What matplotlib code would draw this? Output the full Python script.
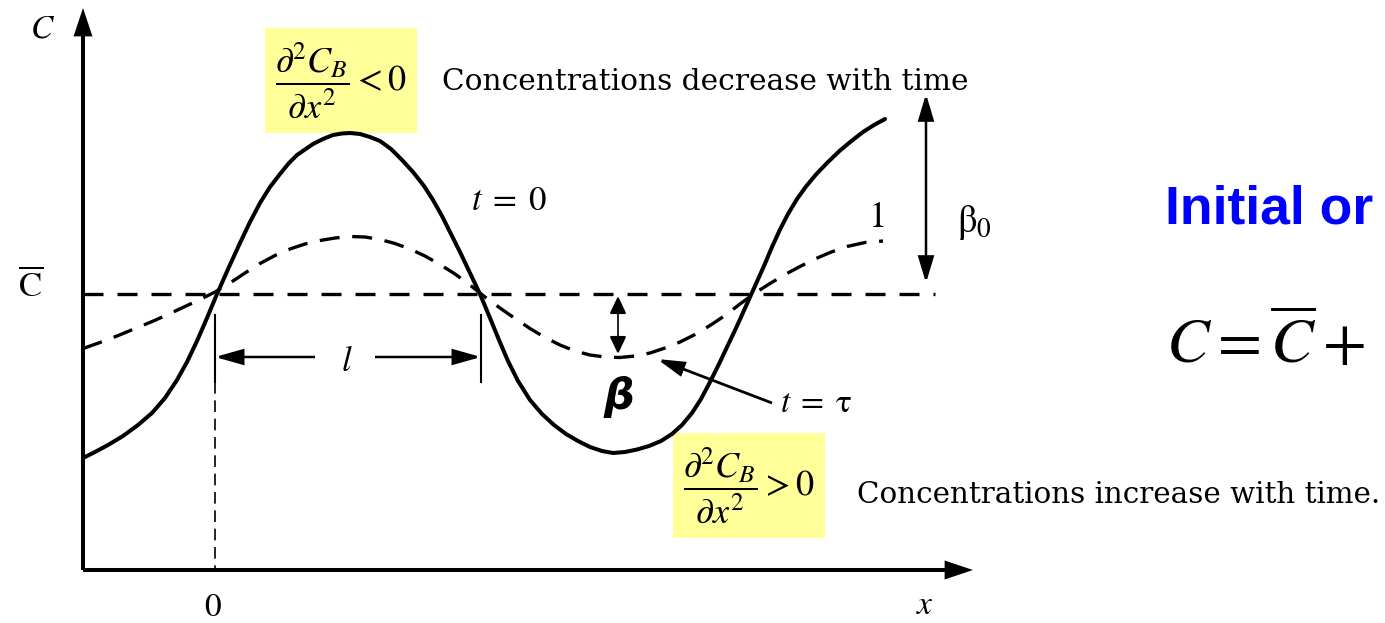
import matplotlib
matplotlib.use("Agg")
import matplotlib.pyplot as plt
from matplotlib.patches import Rectangle, FancyArrowPatch

plt.rcParams["mathtext.fontset"] = "stix"

# Schematic profile C(x) - C̄ at t = 0 (arbitrary units, l = 266)
x_t0 = [-132, -120, -107, -92, -77, -63, -50, -38, -28, -18, -8, 2, 14, 25,
        35, 45, 55, 65, 74, 82, 90, 98, 108, 118, 127, 135,
        145, 155, 165, 176, 187, 198, 209, 218, 227, 236, 245, 255, 265, 275,
        284, 293, 303, 315, 327, 339, 351, 363, 375, 387, 398,
        410, 422, 434, 446, 457, 467, 477, 486, 495, 504, 513, 522, 531, 540,
        549, 557, 565, 573, 582, 591, 601, 612, 625, 637, 648, 659, 670]
c_t0 = [-164, -158, -151, -142, -131, -119, -104, -86, -68, -47, -24, 0, 27,
        51, 72, 91, 107, 120, 131, 139, 144.5, 150, 155, 159, 160.5, 161,
        160, 157, 153, 145, 134, 122, 108, 94, 78, 60, 42, 21, 0, -24,
        -46, -67, -87, -106, -120, -131, -140, -147, -153, -157, -159,
        -158, -155.5, -152, -147, -140, -131, -119, -105, -88, -70, -51, -32,
        -12, 8, 28, 47, 64.5, 80, 95, 107.5, 119.5, 131, 143.5, 153.5, 162,
        169, 175]

# Decayed profile at t = τ
x_tau = [-132, -115, -98, -81, -64, -47, -30, -15, 0, 15, 30, 45, 60, 75, 90,
         105, 120, 135, 150, 165, 180, 195, 210, 225, 240, 255, 270, 285, 300,
         315, 330, 345, 360, 375, 390, 405, 420, 435, 450, 465, 480, 495, 510,
         525, 540, 555, 570, 585, 600, 615, 632, 650, 668]
c_tau = [-54.5, -48.5, -42, -35, -28, -20.5, -12.5, -5.5, 2, 11, 21, 30.5,
         38.5, 45, 50, 53.5, 56, 57.5, 57, 54.5, 50.5, 45, 38, 29.5, 20, 9,
         -3, -14, -24.5, -34.5, -43.5, -51, -57, -61, -63, -63.5, -62, -59,
         -54, -48, -40.5, -31.5, -21.5, -10, 1, 10.5, 19.5, 27.5, 35, 41.5,
         47.5, 51.5, 53]

c_mean = 0            # C̄ level
half_wave = 266       # l
beta0_top = 200       # top of the β0 marker
beta_tau = -60        # depth of the β marker

x_min, x_max = -215, 1170
y_min, y_max = -329, 294
x_axis_y = -276
y_axis_x = -132

fig = plt.figure(figsize=(13.85, 6.23), dpi=100)
ax = fig.add_axes([0, 0, 1, 1])
ax.set_xlim(x_min, x_max)
ax.set_ylim(y_min, y_max)
ax.axis("off")


def arrow(p0, p1, style="-|>", lw=2.0, scale=20, hl=0.8, hw=0.25, z=3):
    st = f"{style},head_length={hl},head_width={hw}"
    a = FancyArrowPatch(p0, p1, arrowstyle=st, mutation_scale=scale,
                        lw=lw, color="black", shrinkA=0, shrinkB=0,
                        joinstyle="miter", capstyle="butt", zorder=z)
    ax.add_patch(a)


# axes with arrowheads
arrow((y_axis_x, x_axis_y), (758, x_axis_y), lw=2.9, hl=0.72, hw=0.24)
arrow((y_axis_x, x_axis_y), (y_axis_x, 286), lw=2.9, hl=0.72, hw=0.24)

# C̄ reference line
ax.plot([y_axis_x, 720], [c_mean, c_mean], color="black", lw=2.4,
        ls=(0, (6.0, 4.2)), dash_capstyle="butt")

# profiles
ax.plot(x_t0, c_t0, color="black", lw=2.9, solid_capstyle="round",
        solid_joinstyle="round", zorder=4)
ax.plot(x_tau, c_tau, color="black", lw=2.4, ls=(0, (6.0, 3.8)),
        dash_capstyle="butt", dash_joinstyle="round", zorder=4)

# half-wavelength marker
tick_top, tick_bot = -21, -88
ax.plot([0, 0], [tick_top, tick_bot], color="black", lw=1.5)
ax.plot([half_wave, half_wave], [tick_top, tick_bot], color="black", lw=1.5)
ax.plot([0, 0], [tick_bot, x_axis_y], color="black", lw=1.2,
        ls=(0, (7.0, 4.0)))
l_y = -63
arrow((100, l_y), (0, l_y), lw=1.8, hl=0.85, hw=0.24)
arrow((160, l_y), (half_wave, l_y), lw=1.8, hl=0.85, hw=0.24)
ax.text(132, -67, r"$l$", fontsize=25, ha="center", va="center")

# amplitude markers
arrow((711, 11), (711, beta0_top), style="<|-|>", lw=1.8, hl=0.8, hw=0.24)
arrow((403, -2), (403, beta_tau), style="<|-|>", lw=1.2, hl=0.55, hw=0.26)
ax.text(742, 71, r"$\mathrm{\beta}_0$", fontsize=28, ha="left",
        va="center")
ax.text(404, -103, "β", fontsize=31, fontweight="bold", style="italic",
        family="DejaVu Sans", ha="center", va="center")

# t = τ pointer
arrow((557, -109), (442, -65), lw=2.0, hl=0.8, hw=0.22)
ax.text(565, -108, r"$t\;=\;\mathrm{\tau}$", fontsize=24, ha="left",
        va="center")
ax.text(294, 94, r"$t\;=\;0$", fontsize=25, ha="center", va="center")
ax.text(661, 77, r"$\mathrm{1}$", fontsize=26, ha="center", va="center")

# axis labels
ax.text(-172, 266, r"$C$", fontsize=24, ha="center", va="center")
ax.text(-184, 7.5, r"$\overline{\mathrm{C}}$", fontsize=25, ha="center",
        va="center")
ax.text(-2, -313, r"$0$", fontsize=24, ha="center", va="center")
ax.text(710, -311, r"$x$", fontsize=24, ha="center", va="center")

# curvature boxes
boxes = [((50, 161), r"$\dfrac{\partial^2 C_B}{\partial x^2} < 0$"),
         ((458, -244), r"$\dfrac{\partial^2 C_B}{\partial x^2} > 0$")]
box_w, box_h = 152, 105
for (bx, by), tex in boxes:
    ax.add_patch(Rectangle((bx, by), box_w, box_h, facecolor="#FFFF99",
                           edgecolor="none", zorder=1))
    ax.text(bx + box_w / 2, by + box_h / 2, tex, fontsize=26, ha="center",
            va="center", zorder=2)

ax.text(227, 212, "Concentrations decrease with time", fontsize=21.3,
        family="DejaVu Serif", ha="left", va="center")
ax.text(642, -201, "Concentrations increase with time.", fontsize=21.2,
        family="DejaVu Serif", ha="left", va="center")

ax.text(950, 70, "Initial or", fontsize=38.5, fontweight="bold",
        family="Liberation Sans", color="#0000FF", ha="left",
        va="baseline")
ax.text(951, -69, r"$C = \overline{C} + $", fontsize=46, ha="left",
        va="baseline")

fig.savefig("out.png", dpi=100)
